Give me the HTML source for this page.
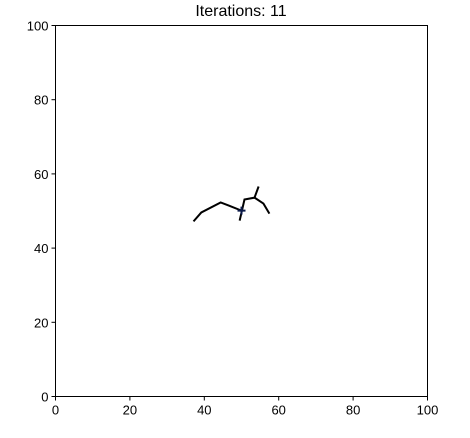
<!DOCTYPE html>
<html><head><meta charset="utf-8"><style>
body{margin:0;background:#fff;}
svg{display:block;font-family:"Liberation Sans","DejaVu Sans",sans-serif;}
</style></head><body>
<svg id="chart" width="470" height="438" viewBox="0 0 470 438" xmlns="http://www.w3.org/2000/svg">
<rect width="470" height="438" fill="#fff"/>
<text x="241" y="16" font-size="16" text-anchor="middle">Iterations: 11</text>
<rect x="55.5" y="25.5" width="372" height="371" fill="none" stroke="#000" stroke-width="1"/>
<g id="ticks"></g>
<g id="marks"></g>
</svg>
<script>
const xTicks=[0,20,40,60,80,100];
const yTicks=[0,20,40,60,80,100];
const pathAX=[37.1,39.2,44.4,46.5,50.0];
const pathAY=[47.2,49.6,52.3,51.5,50.1];
const pathBX=[49.5,50.8,53.5,54.6];
const pathBY=[47.4,53.1,53.6,56.6];
const pathCX=[53.5,55.9,57.5];
const pathCY=[53.6,52.0,49.3];
const markerX=[50.0];
const markerY=[50.1];
const NS="http://www.w3.org/2000/svg";
const L=55.5,R=427.5,T=25.5,B=396.5;
const sx=v=>L+(v-0)/(100-0)*(R-L);
const sy=v=>B-(v-0)/(100-0)*(B-T);
const tk=document.getElementById('ticks');
xTicks.forEach(v=>{
 const l=document.createElementNS(NS,'line');
 l.setAttribute('x1',sx(v));l.setAttribute('x2',sx(v));l.setAttribute('y1',B);l.setAttribute('y2',B+4);l.setAttribute('stroke','#000');
 
 
 tk.appendChild(l);
 const t=document.createElementNS(NS,'text');
 t.setAttribute('x',sx(v));t.setAttribute('y',B+18);t.setAttribute('font-size','13');t.setAttribute('text-anchor','middle');t.textContent=v;
 
 
 tk.appendChild(t);
});
yTicks.forEach(v=>{
 const l=document.createElementNS(NS,'line');
 l.setAttribute('x1',L-4);l.setAttribute('x2',L);l.setAttribute('y1',sy(v));l.setAttribute('y2',sy(v));l.setAttribute('stroke','#000');
 
 
 tk.appendChild(l);
 const t=document.createElementNS(NS,'text');
 t.setAttribute('x',L-7);t.setAttribute('y',sy(v)+5);t.setAttribute('font-size','13');t.setAttribute('text-anchor','end');t.textContent=v;
 
 
 tk.appendChild(t);
});
const mk=document.getElementById('marks');
[[pathAX,pathAY,'path-segment-a'],[pathBX,pathBY,'path-segment-b'],[pathCX,pathCY,'path-segment-c']].forEach(([xs,ys,n])=>{
 const p=document.createElementNS(NS,'polyline');
 p.setAttribute('points',xs.map((x,i)=>sx(x)+','+sy(ys[i])).join(' '));
 p.setAttribute('fill','none');p.setAttribute('stroke','#000');p.setAttribute('stroke-width','2');
 
 
 mk.appendChild(p);
});
markerX.forEach((x,i)=>{
 const cx=sx(x),cy=sy(markerY[i]);
 const p=document.createElementNS(NS,'path');
 p.setAttribute('d',`M${cx-4},${cy}H${cx+4}M${cx},${cy-4}V${cy+4}`);
 p.setAttribute('stroke','#0b1a4a');p.setAttribute('stroke-width','2');
 
 
 mk.appendChild(p);
});
</script>
</body></html>
